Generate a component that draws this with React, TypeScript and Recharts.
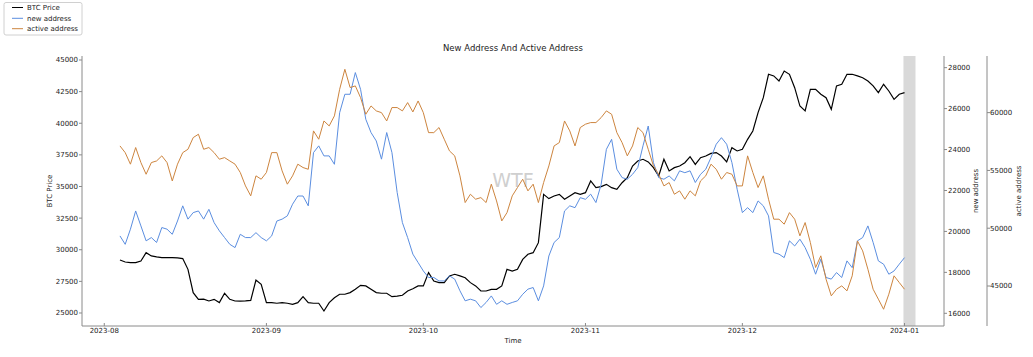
import React from 'react';
import { LineChart, Line, XAxis, YAxis, ReferenceArea } from 'recharts';

// day offset from 2023-08-01
const days = [
  3, 4, 5, 6, 7, 8, 9, 10, 11, 12, 13, 14, 15, 16, 17, 18, 19, 20, 21, 22, 23, 24, 25, 26, 27, 28, 29, 30,
  31, 32, 33, 34, 35, 36, 37, 38, 39, 40, 41, 42, 43, 44, 45, 46, 47, 48, 49, 50, 51, 52, 53, 54, 55, 56, 57,
  58, 59, 60, 61, 62, 63, 64, 65, 66, 67, 68, 69, 70, 71, 72, 73, 74, 75, 76, 77, 78, 79, 80, 81, 82, 83, 84, 85,
  86, 87, 88, 89, 90, 91, 92, 93, 94, 95, 96, 97, 98, 99, 100, 101, 102, 103, 104, 105, 106, 107, 108, 109, 110, 111, 112, 113,
  114, 115, 116, 117, 118, 119, 120, 121, 122, 123, 124, 125, 126, 127, 128, 129, 130, 131, 132, 133, 134, 135, 136, 137, 138, 139, 140, 141,
  142, 143, 144, 145, 146, 147, 148, 149, 150, 151, 152, 153,
];

const btcPrice = [
  29190, 29030, 28980, 28980, 29110, 29770, 29510, 29430, 29380, 29370, 29380, 29360, 29300, 28450, 26610, 26080, 26090, 25950, 26080, 25820, 26560, 26080, 25950, 25940, 25960, 25990, 27610, 27270,
  25820, 25820, 25770, 25820, 25770, 25690, 25820, 26290, 25820, 25770, 25770, 25160, 25820, 26210, 26480, 26480, 26610, 26870, 27190, 27140, 26870, 26610, 26560, 26560, 26290, 26340, 26400,
  26740, 26920, 27140, 27140, 28190, 27530, 27400, 27400, 27930, 28060, 27930, 27790, 27400, 27140, 26740, 26740, 26870, 26870, 27140, 28450, 28320, 28450, 29240, 29640, 29770, 30560, 34380, 34040,
  34250, 34380, 33990, 34250, 34510, 34380, 34510, 35440, 34910, 34990, 35170, 34910, 34780, 35300, 35700, 36620, 37020, 37150, 36940, 36490, 35830, 37150, 36230, 36490, 36620, 36880, 37360, 36750,
  37280, 37410, 37620, 37680, 37410, 36940, 38070, 37810, 37940, 38730, 39390, 40840, 42020, 43870, 43740, 43340, 44130, 43870, 42810, 41360, 40970, 42680, 42680, 42290, 42020, 41100, 42950, 43080,
  43870, 43870, 43740, 43600, 43340, 42950, 42420, 43080, 42550, 41890, 42290, 42420,
];

const newAddress = [
  19780, 19370, 20110, 21000, 20270, 19540, 19700, 19460, 20190, 20110, 19860, 20510, 21250, 20600, 20920, 21000, 20600, 21080, 20430, 20030, 19700, 19370, 19210, 19860, 19700, 19700, 19940, 19700,
  19540, 19780, 20510, 20600, 20760, 21330, 21730, 21730, 21250, 23850, 24180, 23690, 23690, 23280, 25800, 26700, 26700, 27760, 26940, 25480, 24830, 24420, 23530, 24830, 23850, 21900, 20430,
  19700, 18890, 18480, 18070, 17750, 17750, 17580, 17580, 17830, 17670, 17100, 16610, 16690, 16610, 16280, 16530, 16850, 16440, 16610, 16440, 16530, 16610, 16930, 17180, 17260, 16610, 17340, 18800,
  19460, 19700, 21000, 21250, 21160, 21650, 21570, 21820, 21410, 22300, 24010, 24500, 23040, 22630, 22550, 22790, 23120, 24180, 25150, 23360, 22630, 22550, 22710, 22470, 22960, 22870, 22960, 22390,
  22790, 23040, 23610, 24260, 24580, 24260, 23360, 22060, 20920, 21160, 20920, 21490, 21250, 20760, 18970, 18890, 18720, 19540, 19290, 19620, 19210, 18640, 17910, 18640, 17750, 17670, 17990, 17750,
  18560, 18230, 19540, 19700, 20270, 19460, 18560, 18400, 17910, 18070, 18400, 18720,
];

const activeAddress = [
  57120, 56540, 55540, 56980, 55680, 54670, 55680, 55820, 56260, 55680, 54090, 55540, 56540, 56830, 57840, 58130, 56830, 56980, 56540, 55970, 56110, 55820, 55540, 54820, 53660, 52800, 54530, 54240,
  54820, 56540, 56540, 54960, 53810, 54530, 55540, 55250, 55100, 58420, 57700, 59280, 58850, 59720, 62020, 63750, 62170, 62310, 61300, 59860, 60580, 60150, 60000, 59280, 60440, 60440, 60150,
  60870, 60060, 61010, 60000, 58270, 58270, 58710, 57700, 56690, 56260, 54530, 52220, 52940, 52510, 52650, 52220, 53810, 52360, 50630, 51350, 52800, 53520, 54240, 53230, 53810, 52220, 53950, 55390,
  57120, 57410, 59280, 58420, 57120, 58710, 59000, 59140, 59140, 59570, 60150, 59860, 58270, 57410, 56260, 57120, 58710, 58270, 56830, 55390, 54670, 53660, 53950, 52940, 53230, 52510, 53230, 52800,
  54090, 54530, 55540, 55100, 54240, 54820, 54670, 53660, 53660, 56260, 54820, 53520, 54530, 52510, 50780, 50780, 50350, 51350, 50780, 49340, 50490, 48760, 46600, 47610, 45590, 44150, 44720, 45010,
  44580, 45880, 48900, 48040, 46450, 44720, 43860, 42990, 44290, 45880, 45300, 44720,
];

const seriesNames = ['BTC Price', 'new address', 'active address'];
const xTicks = [0, 31, 61, 92, 122, 153];
const xTickLabels = ['2023-08', '2023-09', '2023-10', '2023-11', '2023-12', '2024-01'];
const btcTicks = [25000, 27500, 30000, 32500, 35000, 37500, 40000, 42500, 45000];
const newTicks = [16000, 18000, 20000, 22000, 24000, 26000, 28000];
const activeTicks = [45000, 50000, 55000, 60000];
const shadeRange = [152.8, 155.1];

const data = days.map((d, i) => ({
  d,
  btc: btcPrice[i],
  newAddr: newAddress[i],
  active: activeAddress[i],
}));

const FONT = 'DejaVu Sans';
const COLORS = ['#000000', '#5b8ee0', '#cd853f'];
const SPINE = '#8a8a8a';
const TXT = '#222';
const W = 1033;
const H = 357;

const tickFont = { fontSize: 7, fontFamily: FONT, fill: TXT };

const BottomTick = (props: any) => {
  const { x, y, payload } = props;
  const i = xTicks.indexOf(payload.value);
  return (
    <g>
      <line x1={x} x2={x} y1={y} y2={y - 3} stroke={SPINE} strokeWidth={1} />
      <text x={x} y={y + 2} dy="0.71em" textAnchor="middle" fontSize={7} fontFamily={FONT} fill={TXT}>
        {xTickLabels[i]}
      </text>
    </g>
  );
};

const TopTick = (props: any) => {
  const { x, y } = props;
  return <line x1={x} x2={x} y1={y} y2={y + 3} stroke={SPINE} strokeWidth={1} />;
};

export default function App() {
  return (
    <div style={{ position: 'absolute', left: 0, top: 0, width: W, height: H, background: '#fff' }}>
      {/* watermark below chart */}
      <svg width={W} height={H} style={{ position: 'absolute', left: 0, top: 0 }}>
        <text x={513} y={187} textAnchor="middle" fontSize={19} fontFamily={FONT} fill="#cfcfcf">
          WTF
        </text>
      </svg>
      <div style={{ position: 'absolute', left: 0, top: 0 }}>
        <LineChart width={W} height={H} data={data} margin={{ top: 56, right: 0, bottom: 0, left: 0 }}>
          <XAxis
            dataKey="d"
            type="number"
            domain={[-4.26, 160.55]}
            ticks={xTicks}
            allowDataOverflow
            height={31}
            tickSize={0}
            tickMargin={0}
            tickLine={false}
            axisLine={{ stroke: SPINE, strokeWidth: 1 }}
            tick={<BottomTick />}
            interval={0}
          />
          <XAxis
            xAxisId="top"
            orientation="top"
            dataKey="d"
            type="number"
            domain={[-4.26, 160.55]}
            ticks={xTicks}
            allowDataOverflow
            height={0}
            tickSize={0}
            tickMargin={0}
            tickLine={false}
            axisLine={{ stroke: SPINE, strokeWidth: 1 }}
            tick={<TopTick />}
            interval={0}
          />
          <YAxis
            yAxisId="btc"
            orientation="left"
            width={82}
            type="number"
            domain={[23972, 45316]}
            ticks={btcTicks}
            allowDataOverflow
            interval={0}
            tickSize={3}
            tickMargin={1}
            tickLine={{ stroke: SPINE }}
            axisLine={{ stroke: SPINE, strokeWidth: 1 }}
            tick={tickFont}
          />
          <YAxis
            yAxisId="r1"
            orientation="right"
            width={43}
            type="number"
            domain={[15380, 28570]}
            ticks={newTicks}
            allowDataOverflow
            interval={0}
            tickSize={3}
            tickMargin={1}
            tickLine={{ stroke: SPINE }}
            axisLine={{ stroke: SPINE, strokeWidth: 1 }}
            tick={tickFont}
          />
          <YAxis
            yAxisId="r2"
            orientation="right"
            width={46}
            type="number"
            domain={[41540, 64900]}
            ticks={activeTicks}
            allowDataOverflow
            interval={0}
            tickSize={3}
            tickMargin={0}
            tickLine={{ stroke: SPINE }}
            axisLine={{ stroke: SPINE, strokeWidth: 1 }}
            tick={tickFont}
          />
          <ReferenceArea
            yAxisId="btc"
            x1={shadeRange[0]}
            x2={shadeRange[1]}
            fill="#808080"
            fillOpacity={0.3}
            stroke="none"
          />
          <Line yAxisId="btc" dataKey="btc" name={seriesNames[0]} stroke={COLORS[0]} strokeWidth={1.2} dot={false} isAnimationActive={false} />
          <Line yAxisId="r1" dataKey="newAddr" name={seriesNames[1]} stroke={COLORS[1]} strokeWidth={1} dot={false} isAnimationActive={false} />
          <Line yAxisId="r2" dataKey="active" name={seriesNames[2]} stroke={COLORS[2]} strokeWidth={1} dot={false} isAnimationActive={false} />
        </LineChart>
      </div>
      {/* text overlay: title, axis labels, legend */}
      <svg width={W} height={H} style={{ position: 'absolute', left: 0, top: 0, pointerEvents: 'none' }}>
        <text x={513} y={51} textAnchor="middle" fontSize={8.5} fontFamily={FONT} fill={TXT}>
          New Address And Active Address
        </text>
        <text x={513} y={343} textAnchor="middle" fontSize={7} fontFamily={FONT} fill={TXT}>
          Time
        </text>
        <text x={50} y={191} dy="0.35em" textAnchor="middle" fontSize={7} fontFamily={FONT} fill={TXT} transform="rotate(-90 50 191)">
          {seriesNames[0]}
        </text>
        <text x={976} y={191} dy="0.35em" textAnchor="middle" fontSize={7} fontFamily={FONT} fill={TXT} transform="rotate(-90 976 191)">
          {seriesNames[1]}
        </text>
        <text x={1019} y={191} dy="0.35em" textAnchor="middle" fontSize={7} fontFamily={FONT} fill={TXT} transform="rotate(-90 1019 191)">
          {seriesNames[2]}
        </text>
        <rect x={4} y={2.5} width={78} height={32.5} rx={2} fill="#fff" stroke="#d0d0d0" strokeWidth={1} />
        {seriesNames.map((n, i) => {
          const cy = [7.5, 18.3, 28.7][i];
          return (
            <g key={n}>
              <line x1={12} x2={23} y1={cy} y2={cy} stroke={COLORS[i]} strokeWidth={1} />
              <text x={27} y={cy} dy="0.35em" fontSize={7} fontFamily={FONT} fill={TXT}>
                {n}
              </text>
            </g>
          );
        })}
      </svg>
    </div>
  );
}
